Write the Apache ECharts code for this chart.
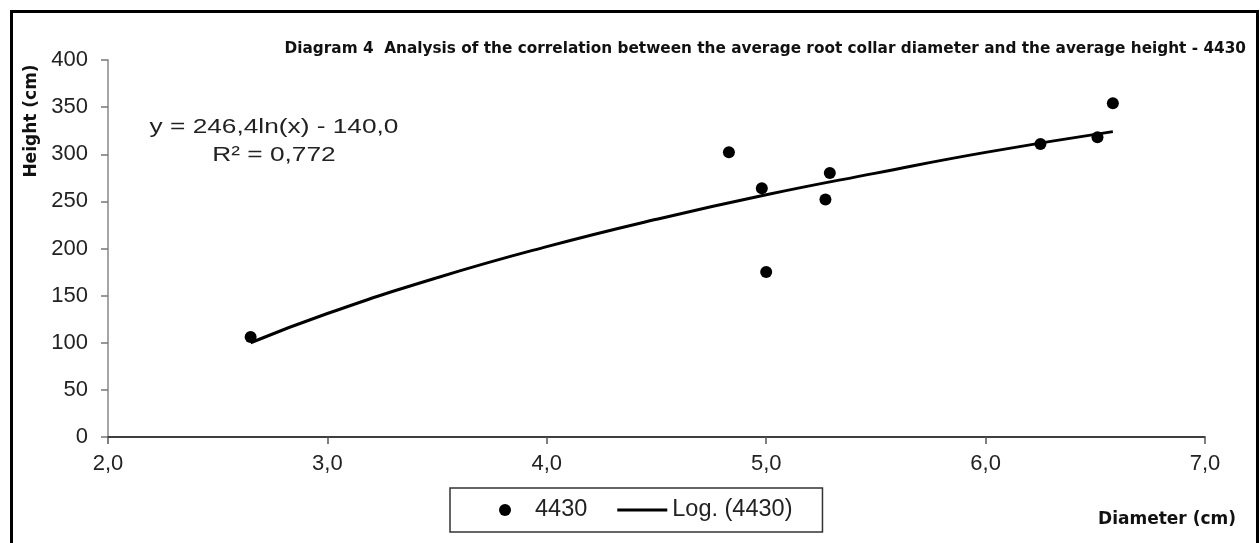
<!DOCTYPE html>
<html>
<head>
<meta charset="utf-8">
<script src="https://cdn.jsdelivr.net/npm/echarts@6/dist/echarts.min.js"></script>
<style>
html,body{margin:0;padding:0;background:#fff;}
#chart{width:1260px;height:543px;}
</style>
</head>
<body>
<div id="chart"></div>
<script>
// Observed data (diameter cm, height cm)
var diameters = [2.65, 4.83, 4.98, 5.00, 5.27, 5.29, 6.25, 6.51, 6.58];
var heights   = [106, 302, 264, 175, 252, 280, 311, 318, 354];
// Logarithmic trendline values
var trendX = [2.65, 3.0, 3.5, 4.0, 4.5, 5.0, 5.5, 6.0, 6.58];
var trendY = [100, 131, 169, 202, 231, 257, 280, 302, 324];
var xTicks = ['2,0','3,0','4,0','5,0','6,0','7,0'];
var titleText = 'Diagram 4  Analysis of the correlation between the average root collar diameter and the average height - 4430';
var equationText = 'y = 246,4ln(x) - 140,0';
var r2Text = 'R\u00B2 = 0,772';
var seriesName = '4430';
var trendName = 'Log. (4430)';

var chart = echarts.init(document.getElementById('chart'), null, {renderer:'canvas'});
var font = "'Liberation Sans', Arial, sans-serif";
var option = {
  backgroundColor: '#fff',
  animation: false,
  grid: {left:108, right:55, top:60, bottom:106, containLabel:false},
  xAxis: {
    type:'value', min:2, max:7, interval:1,
    axisLine:{show:true, onZero:false, lineStyle:{color:'#000', width:1.5}},
    axisTick:{show:true, length:7, lineStyle:{color:'#555', width:1.5}},
    axisLabel:{margin:16, fontSize:22, color:'#222', fontFamily:font,
      formatter:function(v){ return xTicks[Math.round(v-2)]; }},
    splitLine:{show:false}
  },
  yAxis: {
    type:'value', min:0, max:400, interval:50,
    axisLine:{show:true, lineStyle:{color:'#888', width:1.5}},
    axisTick:{show:true, length:7, lineStyle:{color:'#777', width:1.5}},
    axisLabel:{margin:20, fontSize:22, color:'#222', fontFamily:font},
    splitLine:{show:false}
  },
  legend: {
    left:450, top:488,
    padding:[10,30,10,49],
    itemGap:30, itemWidth:50, itemHeight:12,
    borderColor:'#333', borderWidth:1.5, borderRadius:0,
    backgroundColor:'#fff',
    textStyle:{fontSize:23.5, color:'#222', fontFamily:font},
    data:[
      {name:seriesName, icon:'circle'},
      {name:trendName, icon:'path://M0,0H50V3H0Z'}
    ]
  },
  series: [
    {
      name:trendName, type:'line', smooth:true, showSymbol:false, symbol:'none',
      lineStyle:{color:'#000', width:3}, itemStyle:{color:'#000'},
      data: trendX.map(function(x,i){ return [x, trendY[i]]; }),
      z:2
    },
    {
      name:seriesName, type:'scatter', symbol:'circle', symbolSize:12,
      itemStyle:{color:'#000', opacity:1},
      data: diameters.map(function(x,i){ return [x, heights[i]]; }),
      z:3
    }
  ],
  graphic: [
    {type:'rect', shape:{x:11.5, y:11.5, width:1246, height:560},
      style:{fill:'none', stroke:'#000', lineWidth:3}, silent:true},
    {type:'text', right:14, top:42,
      style:{text:titleText, font:"bold 15.3px 'DejaVu Sans', Verdana, sans-serif", fill:'#111'}},
    {type:'text', x:32, y:121, rotation:Math.PI/2,
      style:{text:'Height (cm)', font:"bold 17px 'DejaVu Sans', Verdana, sans-serif", fill:'#111',
        align:'center', verticalAlign:'middle'}},
    {type:'text', x:1236, y:520,
      style:{text:'Diameter (cm)', font:"bold 17px 'DejaVu Sans', Verdana, sans-serif", fill:'#111',
        align:'right', verticalAlign:'middle'}},
    {type:'text', x:274, y:127, scaleX:1.25,
      style:{text:equationText, font:"21px 'Liberation Sans', Arial, sans-serif", fill:'#222',
        align:'center', verticalAlign:'middle'}},
    {type:'text', x:274, y:155, scaleX:1.25,
      style:{text:r2Text, font:"21px 'Liberation Sans', Arial, sans-serif", fill:'#222',
        align:'center', verticalAlign:'middle'}}
  ]
};
chart.setOption(option);
</script>
</body>
</html>
